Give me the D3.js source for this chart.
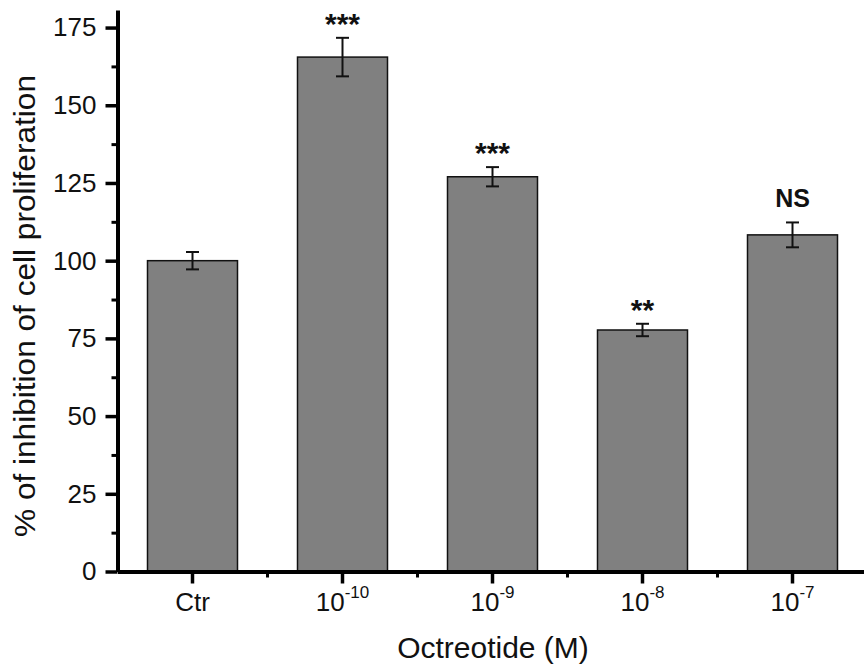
<!DOCTYPE html>
<html>
<head>
<meta charset="utf-8">
<script src="https://cdn.jsdelivr.net/npm/d3@7"></script>
<style>
  body { margin: 0; background: #fff; }
  text { font-family: "Liberation Sans", Arial, sans-serif; }
</style>
</head>
<body>
<div id="chart"></div>
<script>
// data
var categories = ["Ctr", "1e-10", "1e-9", "1e-8", "1e-7"];
var tickBase = ["Ctr", "10", "10", "10", "10"];
var tickExp = ["", "-10", "-9", "-8", "-7"];
var means = [100, 165.5, 127, 77.7, 108.3];
var errors = [2.8, 6.2, 3.1, 2.0, 4.0];
var signif = ["", "***", "***", "**", "NS"];
var yTicks = [0, 25, 50, 75, 100, 125, 150, 175];
var yMinor = [12.5, 37.5, 62.5, 87.5, 112.5, 137.5, 162.5];

var width = 864, height = 664;
var plotLeft = 117.5, plotBottom = 571.5, plotTop = 10;

var svg = d3.select("#chart").append("svg")
  .attr("width", width)
  .attr("height", height);
svg.append("rect").attr("width", width).attr("height", height).attr("fill", "#fff");

var x = d3.scaleBand()
  .domain(categories)
  .range([plotLeft, plotLeft + 750])
  .paddingInner(0.4)
  .paddingOuter(0.2);
var y = d3.scaleLinear()
  .domain([0, 180.65])
  .range([plotBottom, plotTop]);

var data = categories.map(function(c, i) {
  return {cat: c, mean: means[i], err: errors[i], sig: signif[i], base: tickBase[i], exp: tickExp[i]};
});

// bars
svg.selectAll(".bar")
  .data(data)
  .enter().append("rect")
  .attr("class", "bar")
  .attr("x", d => x(d.cat))
  .attr("y", d => y(d.mean))
  .attr("width", x.bandwidth())
  .attr("height", d => y(0) - y(d.mean))
  .attr("fill", "#808080")
  .attr("stroke", "#111")
  .attr("stroke-width", 1.5);

// error bars
var cx = d => x(d.cat) + x.bandwidth() / 2;
var eb = svg.selectAll(".err").data(data).enter().append("g").attr("class", "err")
  .attr("stroke", "#111").attr("stroke-width", 2);
eb.append("line")
  .attr("x1", cx).attr("x2", cx)
  .attr("y1", d => y(d.mean + d.err)).attr("y2", d => y(d.mean - d.err));
eb.append("line")
  .attr("x1", d => cx(d) - 6.5).attr("x2", d => cx(d) + 6.5)
  .attr("y1", d => y(d.mean + d.err)).attr("y2", d => y(d.mean + d.err));
eb.append("line")
  .attr("x1", d => cx(d) - 6.5).attr("x2", d => cx(d) + 6.5)
  .attr("y1", d => y(d.mean - d.err)).attr("y2", d => y(d.mean - d.err));

// significance marks
svg.selectAll(".sig")
  .data(data.filter(d => d.sig !== ""))
  .enter().append("text")
  .attr("class", "sig")
  .attr("x", cx)
  .attr("y", d => d.sig === "NS" ? y(d.mean + d.err) - 15.5 : y(d.mean + d.err) - 4)
  .attr("text-anchor", "middle")
  .style("font-weight", "bold")
  .style("font-size", d => d.sig === "NS" ? "25px" : "30px")
  .attr("fill", "#111")
  .text(d => d.sig);

// y axis
var yAxis = svg.append("g")
  .attr("transform", "translate(" + plotLeft + ",0)")
  .call(d3.axisLeft(y).tickValues(yTicks).tickSize(12).tickSizeOuter(0).tickPadding(9));
yAxis.select(".domain").attr("stroke-width", 4);
yAxis.selectAll(".tick line").attr("stroke-width", 3.5);
yAxis.selectAll(".tick text").style("font-size", "26px").attr("fill", "#111");
svg.append("g")
  .attr("transform", "translate(" + plotLeft + ",0)")
  .call(d3.axisLeft(y).tickValues(yMinor).tickSize(6).tickFormat(""))
  .call(g => g.select(".domain").remove())
  .selectAll(".tick line").attr("stroke-width", 3);

// x axis
var xAxis = svg.append("g")
  .attr("transform", "translate(0," + plotBottom + ")")
  .call(d3.axisBottom(x).tickSize(12).tickSizeOuter(0).tickFormat(""));
xAxis.select(".domain").attr("stroke-width", 4);
xAxis.selectAll(".tick line").attr("stroke-width", 3.5);
var lbl = xAxis.selectAll(".tick").data(data).append("text")
  .attr("y", 39)
  .attr("text-anchor", "middle")
  .style("font-size", "26px")
  .attr("fill", "#111");
lbl.append("tspan").text(d => d.base);
lbl.append("tspan").attr("dy", -13).style("font-size", "17px").text(d => d.exp);

// x minor ticks, halfway between categories
xAxis.selectAll(".minor")
  .data(categories.slice(1))
  .enter().append("line")
  .attr("class", "minor")
  .attr("x1", d => x(d) - x.step() * x.paddingInner() / 2)
  .attr("x2", d => x(d) - x.step() * x.paddingInner() / 2)
  .attr("y1", 0).attr("y2", 6)
  .attr("stroke", "#000").attr("stroke-width", 3);

// axis titles
svg.append("text")
  .attr("x", 493)
  .attr("y", 658)
  .attr("text-anchor", "middle")
  .style("font-size", "30px")
  .attr("fill", "#111")
  .text("Octreotide (M)");
svg.append("text")
  .attr("transform", "translate(35,306) rotate(-90)")
  .attr("text-anchor", "middle")
  .style("font-size", "30px")
  .attr("textLength", 462)
  .attr("lengthAdjust", "spacingAndGlyphs")
  .attr("fill", "#111")
  .text("% of inhibition of cell proliferation");
</script>
</body>
</html>
